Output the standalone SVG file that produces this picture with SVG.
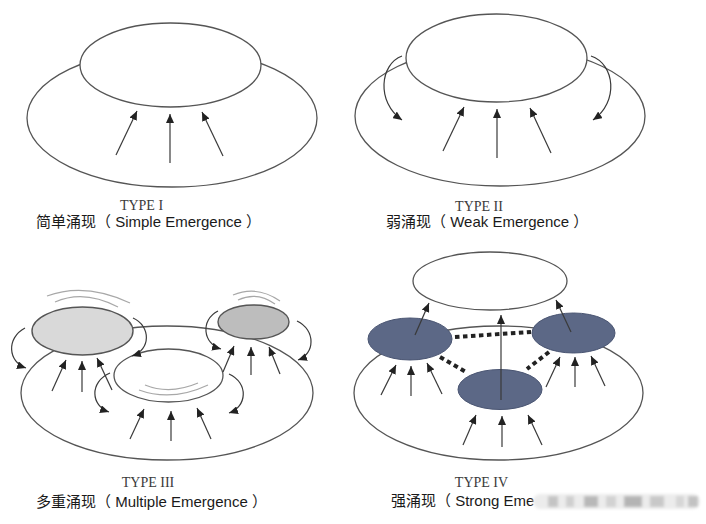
<svg xmlns="http://www.w3.org/2000/svg" width="706" height="524" viewBox="0 0 706 524">
<style>
.ol{fill:none;stroke:#555;stroke-width:1.3}
.ow{fill:#fff;stroke:#555;stroke-width:1.3}
.lg{fill:#d9d9d9;stroke:#555;stroke-width:1.4}
.dg{fill:#bdbdbd;stroke:#555;stroke-width:1.4}
.bl{fill:#5c6886;stroke:#4a5572;stroke-width:1}
.ar{fill:none;stroke:#3a3a3a;stroke-width:1.2;marker-end:url(#ah)}
.arc{fill:none;stroke:#a8a8a8;stroke-width:1.2}
.dot{stroke:#222;stroke-width:4;stroke-dasharray:4.5 3.5;fill:none}
.ty{font-family:"Liberation Serif","Times New Roman",serif;font-size:14px;fill:#3a3a3a;text-anchor:middle}
.lb{font-family:"Liberation Sans","Noto Sans CJK SC",sans-serif;font-size:15px;fill:#1a1a1a}
</style>
<defs>
<marker id="ah" markerUnits="userSpaceOnUse" markerWidth="10" markerHeight="8" refX="9" refY="4" orient="auto">
<path d="M0,0 L9,4 L0,8 z" fill="#222"/>
</marker>
<filter id="bl" x="-10%" y="-50%" width="120%" height="200%"><feGaussianBlur stdDeviation="1.5"/></filter>
</defs>
<rect width="706" height="524" fill="#fff"/>

<!-- TYPE I -->
<g id="type1">
<ellipse class="ol" cx="172" cy="118" rx="145" ry="69"/>
<ellipse class="ow" cx="170.5" cy="65" rx="90.5" ry="42"/>
</g>
<!-- TYPE II -->
<g id="type2">
<ellipse class="ol" cx="500" cy="116" rx="145" ry="70"/>
<ellipse class="ow" cx="496.5" cy="58" rx="90.5" ry="44"/>
</g>
<!-- TYPE III -->
<g id="type3">
<ellipse class="ol" cx="167" cy="393" rx="146" ry="67"/>
<ellipse class="lg" cx="82.5" cy="331" rx="50.5" ry="24"/>
<ellipse class="dg" cx="253.5" cy="322" rx="35.5" ry="17"/>
<ellipse class="ow" cx="168.5" cy="375.5" rx="54.5" ry="26.5"/>
<path class="arc" d="M47,296 Q85,282 130,303"/>
<path class="arc" d="M55,302 Q84,289 118,307"/>
<path class="arc" d="M233,295 Q257,285 280,301"/>
<path class="arc" d="M238,300 Q257,291 275,304"/>
<path class="arc" d="M145,385 Q170,395 198,383"/>
<path class="arc" d="M139,390 Q172,402 208,385"/>
</g>
<!-- TYPE IV -->
<g id="type4">
<ellipse class="ol" cx="498.5" cy="393" rx="144.5" ry="67"/>
<ellipse class="ow" cx="490" cy="281" rx="77" ry="29"/>
<ellipse class="bl" cx="410" cy="339" rx="42" ry="21"/>
<ellipse class="bl" cx="573.5" cy="333" rx="41.5" ry="20"/>
<ellipse class="bl" cx="500" cy="389.5" rx="42" ry="20"/>
</g>

<g id="connectors">
<!-- I -->
<line class="ar" x1="116" y1="155" x2="137" y2="111"/>
<line class="ar" x1="170" y1="163" x2="170" y2="114"/>
<line class="ar" x1="223" y1="156" x2="202" y2="112"/>
<!-- II -->
<path class="ar" d="M402,56 C380,64 376,102 402,120"/>
<path class="ar" d="M591,56 C615,64 619,102 593,120"/>
<line class="ar" x1="443" y1="151" x2="464" y2="107"/>
<line class="ar" x1="497" y1="158" x2="497" y2="109"/>
<line class="ar" x1="551" y1="153" x2="530" y2="108"/>
<!-- III -->
<path class="ar" d="M25,328 C6,338 8,362 26,368"/>
<path class="ar" d="M133,318 C151,326 151,350 132,356"/>
<path class="ar" d="M218,311 C200,320 203,344 221,349"/>
<path class="ar" d="M297,321 C316,330 315,354 298,360"/>
<path class="ar" d="M110,373 C89,382 91,406 109,412"/>
<path class="ar" d="M229,374 C249,383 247,407 229,413"/>
<line class="ar" x1="52" y1="391" x2="66" y2="360"/>
<line class="ar" x1="82" y1="392" x2="82" y2="361"/>
<line class="ar" x1="112" y1="390" x2="97" y2="358"/>
<line class="ar" x1="223" y1="372" x2="234" y2="346"/>
<line class="ar" x1="251" y1="375" x2="251" y2="347"/>
<line class="ar" x1="280" y1="374" x2="269" y2="347"/>
<line class="ar" x1="130" y1="439" x2="144" y2="409"/>
<line class="ar" x1="171" y1="441" x2="171" y2="411"/>
<line class="ar" x1="211" y1="439" x2="197" y2="408"/>
<!-- IV -->
<line class="dot" x1="455" y1="337" x2="531" y2="332"/>
<line class="dot" x1="440" y1="357" x2="466" y2="372"/>
<line class="dot" x1="549" y1="352" x2="527" y2="369"/>
<line class="ar" x1="415" y1="335" x2="429" y2="303"/>
<line class="ar" x1="501" y1="400" x2="501" y2="315"/>
<line class="ar" x1="571" y1="332" x2="556" y2="300"/>
<line class="ar" x1="381" y1="395" x2="396" y2="365"/>
<line class="ar" x1="411" y1="396" x2="411" y2="366"/>
<line class="ar" x1="442" y1="394" x2="427" y2="363"/>
<line class="ar" x1="546" y1="387" x2="560" y2="357"/>
<line class="ar" x1="575" y1="387" x2="575" y2="357"/>
<line class="ar" x1="605" y1="386" x2="591" y2="356"/>
<line class="ar" x1="463" y1="445" x2="476" y2="415"/>
<line class="ar" x1="502" y1="447" x2="502" y2="416"/>
<line class="ar" x1="542" y1="445" x2="528" y2="415"/>
</g>

<g id="labels">
<text class="ty" x="141.5" y="210">TYPE I</text>
<text class="lb" x="36" y="227">简单涌现（ Simple Emergence ）</text>
<text class="ty" x="479" y="211">TYPE II</text>
<text class="lb" x="386" y="227">弱涌现（ Weak Emergence ）</text>
<text class="ty" x="148" y="487">TYPE III</text>
<text class="lb" x="36" y="507">多重涌现（ Multiple Emergence ）</text>
<text class="ty" x="481.5" y="487">TYPE IV</text>
<text class="lb" x="391" y="506">强涌现（ Strong Eme</text>
</g>

<g id="watermark" filter="url(#bl)">
<rect x="533" y="494" width="167" height="15" rx="7.5" fill="#ececec"/>
<rect x="548" y="496" width="10" height="11" fill="#c4c4c4"/>
<rect x="566" y="496" width="8" height="11" fill="#cfcfcf"/>
<rect x="584" y="496" width="14" height="11" fill="#b8b8b8"/>
<rect x="606" y="496" width="10" height="11" fill="#d2d2d2"/>
<rect x="624" y="496" width="18" height="11" fill="#b4b4b4"/>
<rect x="650" y="496" width="14" height="11" fill="#c8c8c8"/>
<rect x="676" y="496" width="8" height="11" fill="#d6d6d6"/>
<rect x="688" y="496" width="10" height="11" fill="#c2c2c2"/>
</g>
</svg>
